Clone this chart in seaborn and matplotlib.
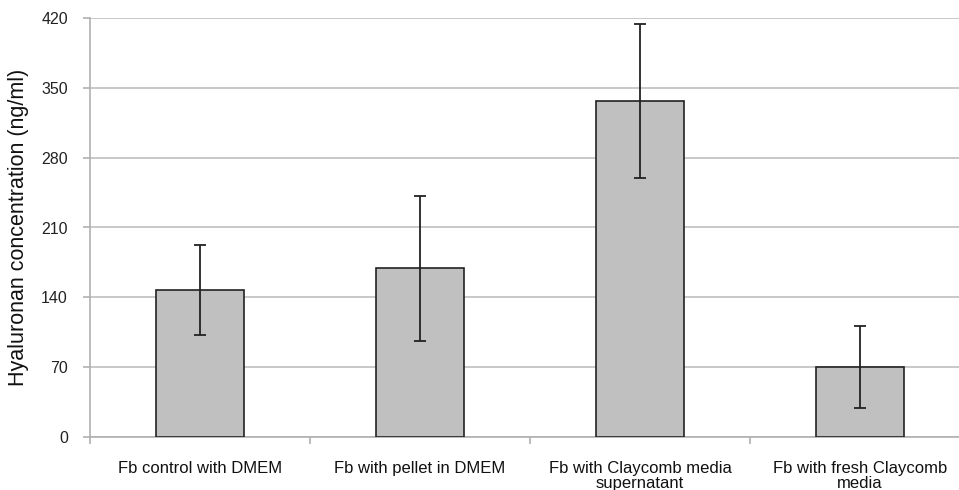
import matplotlib
matplotlib.use("Agg")
import matplotlib.pyplot as plt
import seaborn as sns
import pandas as pd

# values
groups = ["Fb control with DMEM", "Fb with pellet in DMEM",
          "Fb with Claycomb media\nsupernatant", "Fb with fresh Claycomb\nmedia"]
hyaluronan = [147, 169, 337, 70]
err = [45, 73, 77, 41]
yticks = [0, 70, 140, 210, 280, 350, 420]

sns.set_style("white")
plt.rcParams["font.family"] = ["Liberation Sans", "DejaVu Sans"]

df = pd.DataFrame({"group": groups, "value": hyaluronan})

fig = plt.figure(figsize=(9.59, 4.9), dpi=100)
ax = fig.add_axes([90 / 959, 53 / 490, 880 / 959, 419 / 490])

sns.barplot(data=df, x="group", y="value", color="#c0c0c0", edgecolor="#222222",
            linewidth=1.2, width=0.4, saturation=1, errorbar=None, ax=ax, zorder=3)
ax.errorbar(range(len(groups)), hyaluronan, yerr=err, fmt="none", ecolor="#222222",
            elinewidth=1.3, capsize=4.5, capthick=1.3, zorder=4)

ax.set_ylim(0, 420)
ax.set_xlim(-0.5, 3.5)
ax.set_yticks(yticks)
ax.yaxis.grid(True, color="#bfbfbf", linewidth=1.2, zorder=0)
ax.set_axisbelow(True)

for s in ["top", "right"]:
    ax.spines[s].set_visible(False)
for s in ["left", "bottom"]:
    ax.spines[s].set_color("#b0b0b0")
    ax.spines[s].set_linewidth(1.2)

ax.tick_params(axis="y", which="major", length=5, color="#b0b0b0", width=1.2,
               labelsize=11.5, labelcolor="#222222", pad=11, left=True)
ax.tick_params(axis="x", which="major", length=0, labelsize=12, labelcolor="#111111", pad=17.5)
ax.set_xticks([-0.5, 0.5, 1.5, 2.5, 3.5], minor=True)
ax.tick_params(axis="x", which="minor", length=5, color="#b0b0b0", width=1.2, bottom=True)
for lbl in ax.get_xticklabels():
    lbl.set_linespacing(1.0)

ax.set_xlabel("")
ax.set_ylabel("Hyaluronan concentration (ng/ml)", fontsize=15.5, color="#111111", labelpad=9)

fig.savefig("out.png", dpi=100)
